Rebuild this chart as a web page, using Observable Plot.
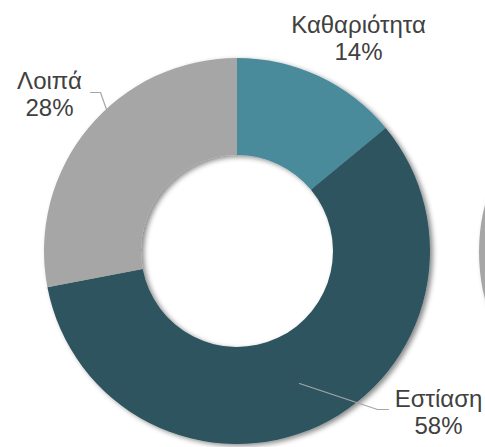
<!DOCTYPE html>
<html><head><meta charset="utf-8">
<script src="https://cdn.jsdelivr.net/npm/d3@7"></script>
<script src="https://cdn.jsdelivr.net/npm/@observablehq/plot@0.6"></script>
<style>html,body{margin:0;padding:0;background:#fff;overflow:hidden;}</style>
</head><body><div id="chart"></div>
<script>
// ---- data ----
const categories = ["Καθαριότητα", "Εστίαση", "Λοιπά"];
const shares = [14, 58, 28];
const sliceColors = ["#4a8b9b", "#2d545e", "#a6a6a6"];
// fragment of the neighbouring chart, cut off at the right edge
const neighbourShares = [100];
const neighbourColors = ["#a6a6a6"];

// ---- layout (pixels) ----
const W = 485, H = 447;
const center = [237, 251], rOuter = 193, rInner = 96;
const neighbourCenter = [672, 252];
const labelAt = {
  "Καθαριότητα": [358, 37],
  "Εστίαση": [438, 411],
  "Λοιπά": [49, 93]
};
const leaders = {
  "Λοιπά": [[90, 92], [100, 92], [106, 109]],
  "Εστίαση": [[299, 383], [377, 409], [388, 409]]
};

function donutMark(values, colors, c, id) {
  return (index, scales) => {
    const sx = scales.x, sy = scales.y;
    const X = sx(c[0]), Y = sy(c[1]);
    const g = d3.create("svg:g");
    const defs = g.append("defs");
    const f = defs.append("filter").attr("id", id)
      .attr("x", "-20%").attr("y", "-20%").attr("width", "140%").attr("height", "140%");
    f.append("feDropShadow").attr("dx", 3).attr("dy", 2).attr("stdDeviation", 2.5)
      .attr("flood-color", "#000").attr("flood-opacity", 0.45);
    const pie = d3.pie().sort(null).value(d => d)(values);
    const arc = d3.arc().innerRadius(sx(rInner) - sx(0)).outerRadius(sx(rOuter) - sx(0));
    g.append("g").attr("filter", `url(#${id})`)
      .attr("transform", `translate(${X},${Y})`)
      .selectAll("path").data(pie).join("path")
      .attr("d", arc).attr("fill", (d, i) => colors[i]);
    return g.node();
  };
}

const labelData = categories.map((c, i) => ({
  label: `${c}\n${shares[i]}%`, x: labelAt[c][0], y: labelAt[c][1]
}));
const leaderData = Object.entries(leaders).flatMap(([k, pts]) => pts.map(p => ({k, x: p[0], y: p[1]})));

const chart = Plot.plot({
  width: W, height: H,
  margin: 0,
  x: {domain: [0, W], range: [0, W], axis: null},
  y: {domain: [0, H], range: [0, H], axis: null},
  style: {background: "#fff", fontFamily: "'Liberation Sans', Arial, sans-serif"},
  marks: [
    donutMark(neighbourShares, neighbourColors, neighbourCenter, "shadowB"),
    donutMark(shares, sliceColors, center, "shadowA"),
    Plot.line(leaderData, {x: "x", y: "y", z: "k", stroke: "#a6a6a6", strokeWidth: 1.2}),
    Plot.text(labelData, {x: "x", y: "y", text: "label", fontSize: 24, lineHeight: 1.15,
      fill: "#404040", textAnchor: "middle", lineAnchor: "middle"})
  ]
});
document.getElementById("chart").appendChild(chart);
</script>
</body></html>
